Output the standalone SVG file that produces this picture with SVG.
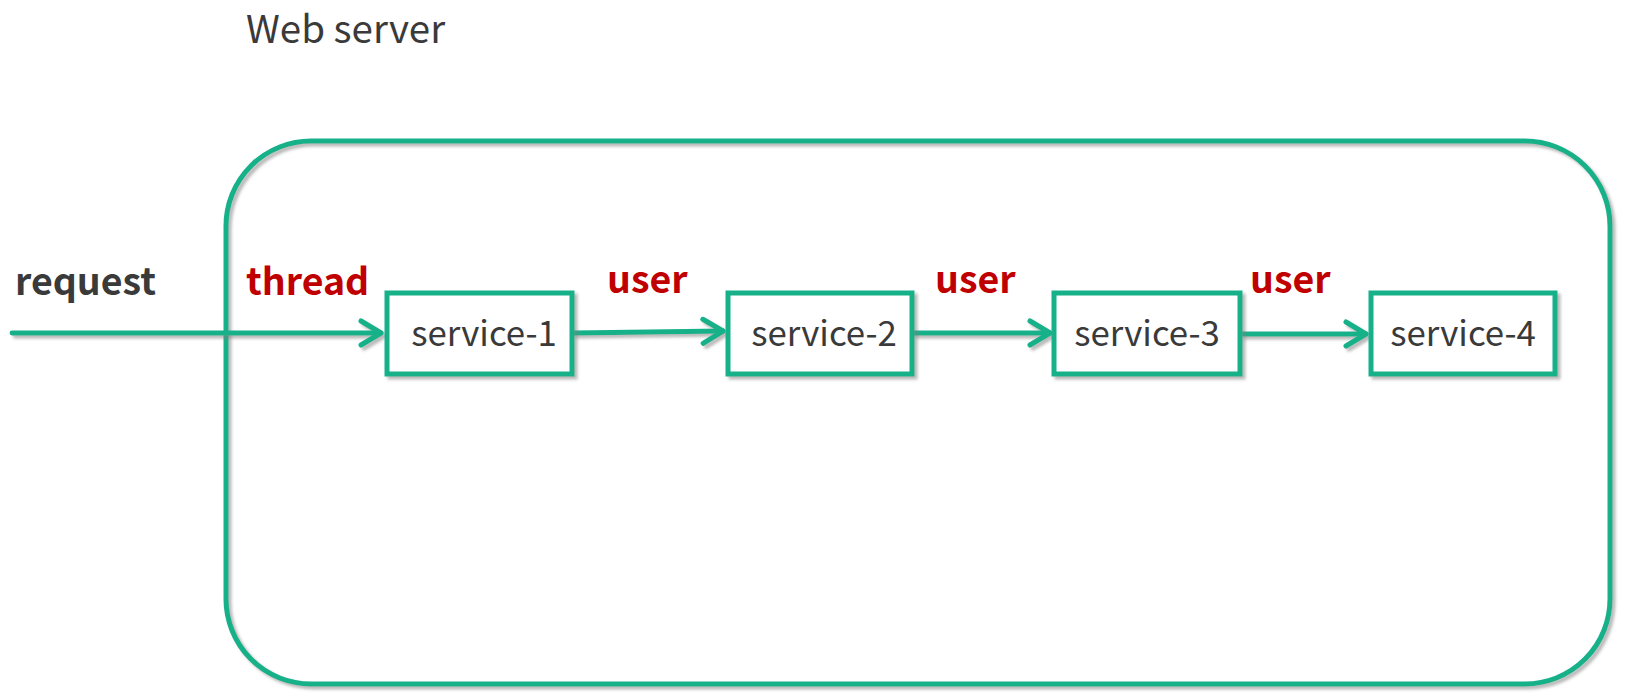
<svg xmlns="http://www.w3.org/2000/svg" width="1625" height="699" viewBox="0 0 1625 699">
<defs>
<filter id="sh" filterUnits="userSpaceOnUse" x="0" y="0" width="1625" height="699">
<feDropShadow dx="3" dy="3" stdDeviation="1.5" flood-color="#808080" flood-opacity="0.55"/>
</filter>
<marker id="arr" markerUnits="userSpaceOnUse" viewBox="0 0 30 30" markerWidth="30" markerHeight="30" refX="26" refY="15" orient="auto">
<path d="M 6 3 L 26 15 L 6 27" fill="none" stroke="#14b089" stroke-width="5" stroke-linecap="round" stroke-linejoin="round"/>
</marker>
</defs>
<style>
.g{fill:none;stroke:#14b089;stroke-width:5}
.box{fill:#fff;stroke:#14b089;stroke-width:5}
.ln{fill:none;stroke:#14b089;stroke-width:4.8;stroke-linecap:round}
.t{font-family:"Noto Sans CJK SC","Noto Sans",sans-serif;fill:#3a3a3a}
.lbl{font-family:"Noto Sans CJK SC","Noto Sans",sans-serif;font-weight:bold;font-size:37.5px}
.svc{font-size:34.8px;text-anchor:middle}
</style>
<rect width="1625" height="699" fill="#fff"/>
<g id="webserver">
<rect class="g" x="226" y="141" width="1384" height="543" rx="85" ry="85" filter="url(#sh)"/>
<text class="t" x="246" y="43" font-size="38.5">Web server</text>
</g>
<g id="connectors" filter="url(#sh)">
<line class="ln" x1="12" y1="333" x2="381" y2="333" marker-end="url(#arr)"/>
<line class="ln" x1="574" y1="333" x2="723" y2="331" marker-end="url(#arr)"/>
<line class="ln" x1="914" y1="333" x2="1050" y2="333" marker-end="url(#arr)"/>
<line class="ln" x1="1242" y1="334" x2="1366" y2="334" marker-end="url(#arr)"/>
</g>
<g id="labels">
<text class="lbl" x="15" y="295" fill="#3a3a3a">request</text>
<text class="lbl" x="246" y="295" fill="#c00000">thread</text>
<text class="lbl" x="607" y="293" fill="#c00000">user</text>
<text class="lbl" x="935" y="293" fill="#c00000">user</text>
<text class="lbl" x="1250" y="293" fill="#c00000">user</text>
</g>
<g id="service-1">
<rect class="box" x="387" y="293" width="185" height="81" filter="url(#sh)"/>
<text class="t svc" x="484" y="346">service-1</text>
</g>
<g id="service-2">
<rect class="box" x="728" y="293" width="184" height="81" filter="url(#sh)"/>
<text class="t svc" x="824" y="346">service-2</text>
</g>
<g id="service-3">
<rect class="box" x="1054" y="293" width="186" height="81" filter="url(#sh)"/>
<text class="t svc" x="1147" y="346">service-3</text>
</g>
<g id="service-4">
<rect class="box" x="1371" y="293" width="184" height="81" filter="url(#sh)"/>
<text class="t svc" x="1463" y="346">service-4</text>
</g>
</svg>
